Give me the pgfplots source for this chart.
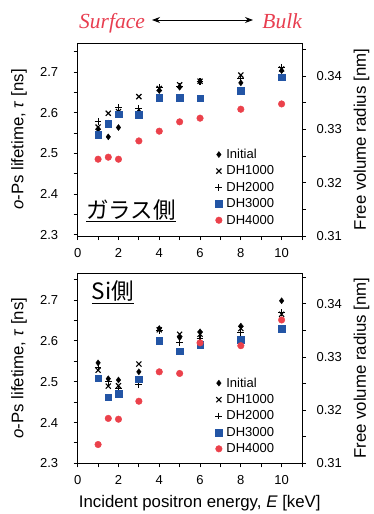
\documentclass[border=0pt]{standalone}
\usepackage{fontspec}
\setmainfont{Liberation Sans}
\newfontfamily\serifit{Liberation Serif}
\newfontfamily\jp{Noto Sans CJK JP}
\usepackage{pgfplots}
\pgfplotsset{compat=1.18}
\usepackage{pgfplotstable}
\usetikzlibrary{arrows.meta}
\definecolor{sqblue}{RGB}{35,85,165}
\definecolor{dotred}{RGB}{235,65,75}
\definecolor{titred}{RGB}{232,62,80}

\pgfplotstableread{
x Init DHa DHb DHc DHd
1   2.560 2.565 2.578 2.546 2.486
1.5 2.541 2.599 2.575 2.573 2.491
2   2.564 2.603 2.613 2.597 2.486
3   2.603 2.640 2.611 2.595 2.531
4   2.655 2.660 2.662 2.638 2.555
5   2.663 2.669 2.665 2.638 2.578
6   2.677 2.678 2.677 2.636 2.587
8   2.674 2.693 2.685 2.655 2.609
10  2.704 2.708 2.712 2.688 2.622
}\toptab

\pgfplotstableread{
x Init DHa DHb DHc DHd
1   2.546 2.528 2.535 2.508 2.346
1.5 2.507 2.489 2.500 2.462 2.410
2   2.504 2.490 2.483 2.471 2.408
3   2.524 2.543 2.493 2.506 2.452
4   2.630 2.627 2.625 2.600 2.524
5   2.608 2.616 2.595 2.575 2.520
6   2.622 2.616 2.606 2.591 2.595
8   2.636 2.630 2.621 2.602 2.588
10  2.698 2.665 2.669 2.629 2.651
}\bottab

\pgfplotsset{
  base/.style={
    scale only axis, width=224.3pt,
    xmin=0, xmax=11,
    tick align=outside,
    major tick length=4pt, minor tick length=4pt,
    every tick/.style={black, line width=0.9pt},
    axis line style={line width=1pt},
    /pgf/number format/assume math mode=true,
    tick label style={font=\fontsize{13}{15}\selectfont},
    label style={font=\fontsize{16.8}{19}\selectfont},
  },
  leftax/.style={
    base,
    xtick={0,2,...,10}, minor xtick={1,3,...,11},
    xtick pos=bottom, ytick pos=left,
    xticklabel style={yshift=-5pt},
    ytick={2.3,2.4,2.5,2.6,2.7}, minor ytick={2.35,2.45,2.55,2.65,2.75},
    yticklabel style={xshift=-12pt, /pgf/number format/.cd, fixed, precision=1, fixed zerofill},
    ylabel={\textit{o}-Ps lifetime, \textit{τ} [ns]},
    ylabel style={at={(axis description cs:-0.262,0.5)}, anchor=center},
    legend style={draw=none, fill=none, font=\fontsize{13}{15}\selectfont,
      at={(axis description cs:0.60,0.47)}, anchor=north west,
      row sep=2.6pt, nodes={inner sep=1.6pt}},
    legend cell align=left,
    legend image code/.code={\draw[mark repeat=2,mark phase=2,##1] plot coordinates {(0pt,0pt)(5pt,0pt)(10pt,0pt)};},
  },
  rightax/.style={
    base,
    axis x line=none, axis y line*=right,
    ytick={0.31,0.32,0.33,0.34}, minor ytick={0.315,0.325,0.335,0.345},
    yticklabel style={xshift=7pt, /pgf/number format/.cd, fixed, precision=2, fixed zerofill},
    ylabel={Free volume radius [nm]},
    ylabel style={at={(axis description cs:1.265,0.5)}, anchor=center, rotate=0},
  },
  pI/.style={only marks, mark=diamond*, mark size=3pt, black, mark options={solid, fill=black}},
  pA/.style={only marks, mark=x, mark size=3.6pt, black, mark options={line width=1.1pt}},
  pB/.style={only marks, mark=+, mark size=3.4pt, black, mark options={line width=1.1pt}},
  pC/.style={only marks, mark=square*, mark size=3.3pt, sqblue, mark options={draw=sqblue, fill=sqblue}},
  pD/.style={only marks, mark=*, mark size=3.3pt, dotred, mark options={draw=dotred, fill=dotred}},
}

\begin{document}
\begin{tikzpicture}
\useasboundingbox (0,0) rectangle (374pt,-514pt);

% title
\node[anchor=base west, text=titred, font=\serifit\itshape\fontsize{21.5}{24}\selectfont, inner sep=0pt] at (79pt,-28pt) {Surface};
\node[anchor=base east, text=titred, font=\serifit\itshape\fontsize{21.5}{24}\selectfont, inner sep=0pt] at (302pt,-28pt) {Bulk};
\draw[{Stealth[length=8pt,width=6pt]}-{Stealth[length=8pt,width=6pt]}, line width=1pt] (152pt,-20pt) -- (253pt,-20pt);

% ---------- top panel ----------
\begin{axis}[leftax, at={(77.7pt,-236pt)}, anchor=south west, height=193pt,
  ymin=2.297, ymax=2.772]
\addplot[pI] table[x=x, y=Init] {\toptab};
\addplot[pA] table[x=x, y=DHa] {\toptab};
\addplot[pB] table[x=x, y=DHb] {\toptab};
\addplot[pC] table[x=x, y=DHc] {\toptab};
\addplot[pD] table[x=x, y=DHd] {\toptab};
\legend{\hspace{2.5pt}Initial, \hspace{2.5pt}DH1000, \hspace{2.5pt}DH2000, \hspace{2.5pt}DH3000, \hspace{2.5pt}DH4000}
\node[anchor=base west, font=\jp\fontsize{22.5}{26}\selectfont, inner sep=0pt] at (axis description cs:0.038,0.093) {\underline{ガラス側}};
\end{axis}
\begin{axis}[rightax, at={(77.7pt,-236pt)}, anchor=south west, height=193pt,
  ymin=0.31, ymax=0.3462]
\end{axis}

% ---------- bottom panel ----------
\begin{axis}[leftax, at={(77.7pt,-463.3pt)}, anchor=south west, height=190.3pt,
  ymin=2.3, ymax=2.766,
  xlabel={Incident positron energy, \textit{E} [keV]},
  xlabel style={at={(axis description cs:0.544,-0.21)}, anchor=center}]
\addplot[pI] table[x=x, y=Init] {\bottab};
\addplot[pA] table[x=x, y=DHa] {\bottab};
\addplot[pB] table[x=x, y=DHb] {\bottab};
\addplot[pC] table[x=x, y=DHc] {\bottab};
\addplot[pD] table[x=x, y=DHd] {\bottab};
\legend{\hspace{2.5pt}Initial, \hspace{2.5pt}DH1000, \hspace{2.5pt}DH2000, \hspace{2.5pt}DH3000, \hspace{2.5pt}DH4000}
\node[anchor=base west, font=\jp\fontsize{22.5}{26}\selectfont, inner sep=0pt] at (axis description cs:0.062,0.86) {\underline{Si側}};
\end{axis}
\begin{axis}[rightax, at={(77.7pt,-463.3pt)}, anchor=south west, height=190.3pt,
  ymin=0.31, ymax=0.3458]
\end{axis}
\end{tikzpicture}
\end{document}
